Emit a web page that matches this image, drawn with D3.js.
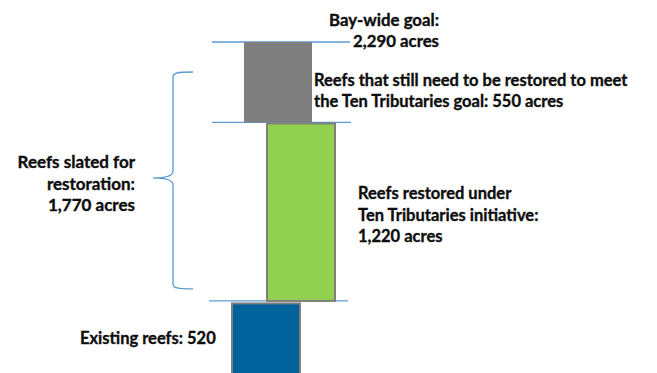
<!DOCTYPE html>
<html>
<head>
<meta charset="utf-8">
<script src="https://cdn.jsdelivr.net/npm/d3@7"></script>
<style>
  html, body { margin: 0; padding: 0; background: #fff; }
  svg text { font-family: Lato, "Open Sans", sans-serif; font-weight: 700; fill: #0d0d0d;
             stroke: #0d0d0d; stroke-width: 0.35px; }
</style>
</head>
<body>
<svg id="chart" width="657" height="373"></svg>
<script>
// Oyster reef acreage in the Chesapeake Bay
const segments = ["Existing reefs", "Restored under Ten Tributaries", "Still to be restored"];
const acres = [520, 1220, 550];
const segmentColors = ["#00629B", "#92D050", "#7F7F7F"];
const bayWideGoal = 2290;
const slatedTotal = 1770;

const fmt = d3.format(",");

const svg = d3.select("#chart");

// vertical acreage scale (bottom of the stack runs below the frame)
const y = d3.scaleLinear().domain([0, bayWideGoal]).range([377, 42]);

// cumulative stack
let run = 0;
const stack = acres.map((v, i) => {
  const s = { key: segments[i], value: v, y0: run, y1: run + v, color: segmentColors[i] };
  run += v;
  return s;
});

// horizontal placement of each column (stepped waterfall)
const colX = [232, 267, 244];
const colW = 68;
const outlined = [true, true, false];

// reference lines at stack boundaries
const lineColor = "#5B9BD5";
const refLines = [
  { v: stack[0].y1, x1: 209, x2: 348 },
  { v: stack[1].y1, x1: 212, x2: 351 },
  { v: stack[2].y1, x1: 212, x2: 350 }
];
svg.selectAll("line.ref").data(refLines).join("line")
  .attr("class", "ref")
  .attr("x1", d => d.x1).attr("x2", d => d.x2)
  .attr("y1", d => y(d.v)).attr("y2", d => y(d.v))
  .attr("stroke", lineColor).attr("stroke-width", 1.3);

// bars
svg.selectAll("rect.seg").data(stack).join("rect")
  .attr("class", "seg")
  .attr("x", (d, i) => colX[i])
  .attr("y", (d, i) => y(d.y1) + (i === 0 ? 2.5 : (outlined[i] ? 1 : 0)))
  .attr("width", colW)
  .attr("height", (d, i) => y(d.y0) - y(d.y1) - (i === 0 ? 0 : (outlined[i] ? 1 : 0)))
  .attr("fill", d => d.color)
  .attr("stroke", (d, i) => outlined[i] ? "#7F7F7F" : "none")
  .attr("stroke-width", 2);

// brace spanning the acreage slated for restoration
const bTop = y(stack[0].y1 + slatedTotal) + 30;
const bBot = y(stack[0].y1) - 13;
const bMid = (bTop + bBot) / 2 - 2;
const bx = 173, bTip = 153, bEnd = 193;
const brace = d3.path();
brace.moveTo(bEnd, bTop);
brace.bezierCurveTo(bx + 4, bTop, bx, bTop + 1, bx, bTop + 5);
brace.lineTo(bx, bMid - 7);
brace.bezierCurveTo(bx, bMid - 2, bx - 6, bMid, bTip, bMid);
brace.bezierCurveTo(bx - 6, bMid, bx, bMid + 2, bx, bMid + 7);
brace.lineTo(bx, bBot - 4);
brace.bezierCurveTo(bx, bBot, bx + 4, bBot + 1, bEnd, bBot + 1);
svg.append("path").attr("d", brace.toString())
  .attr("fill", "none").attr("stroke", lineColor).attr("stroke-width", 1.3);

// labels
function label(lines, x, y0, anchor, lh, fs) {
  const t = svg.append("text").attr("font-size", fs).attr("text-anchor", anchor);
  lines.forEach((s, i) => {
    t.append("tspan").attr("x", x).attr("y", y0 + i * lh).text(s);
  });
  return t;
}

label(["Bay-wide goal:", fmt(bayWideGoal) + " acres"], 439, 26, "end", 21, 16.8);
label(["Reefs that still need to be restored to meet",
       "the Ten Tributaries goal: " + fmt(acres[2]) + " acres"], 314, 86, "start", 20.5, 16.5);
label(["Reefs restored under", "Ten Tributaries initiative:", fmt(acres[1]) + " acres"],
      358, 199, "start", 21.5, 16.5);
label(["Reefs slated for", "restoration:", fmt(slatedTotal) + " acres"],
      135, 168, "end", 21.7, 17);
label(["Existing reefs: " + acres[0]], 80, 344, "start", 0, 16.5);
</script>
</body>
</html>
